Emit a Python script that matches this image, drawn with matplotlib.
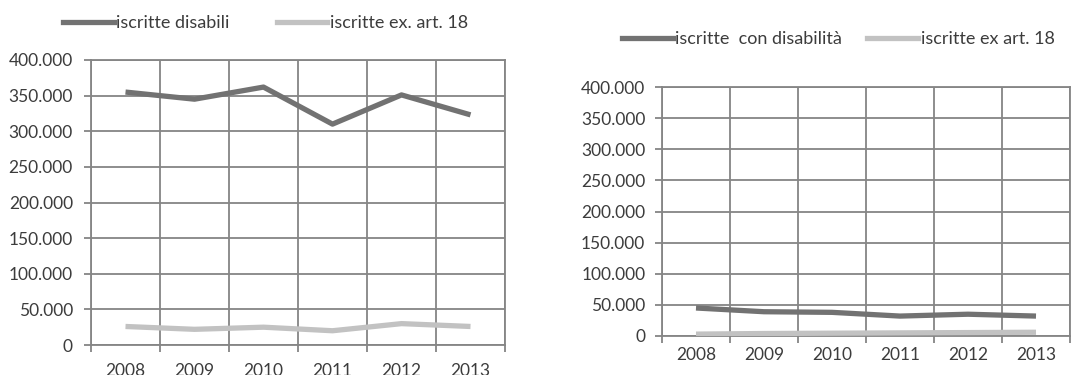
import matplotlib
matplotlib.use("Agg")
import matplotlib.pyplot as plt
from matplotlib.ticker import FuncFormatter, FixedLocator
from matplotlib.lines import Line2D

years = ["2008", "2009", "2010", "2011", "2012", "2013"]
left_disabili = [355000, 345000, 362000, 310000, 351000, 323000]
left_art18 = [26000, 22000, 25000, 20000, 30000, 26000]
right_disabilita = [45000, 39000, 38000, 32000, 35000, 32000]
right_art18 = [3000, 4000, 4500, 5000, 5500, 6000]

left_labels = ["iscritte disabili", "iscritte ex. art. 18"]
right_labels = ["iscritte  con disabilità", "iscritte ex art. 18"]
yticks = [0, 50000, 100000, 150000, 200000, 250000, 300000, 350000, 400000]

DARK = "#727272"
LIGHT = "#c2c2c2"
GRID = "#858585"
TEXT = "#3c3c3c"
FONT = "Lato"

plt.rcParams['font.family'] = [FONT, 'DejaVu Sans']

W, H = 1074, 375
fig = plt.figure(figsize=(W / 100, H / 100), dpi=100)


def fmt(v, pos):
    return f"{int(v):,}".replace(",", ".")


def make_axes(x0, x1, ytop, ybot, s1, s2, xpad, ypad):
    ax = fig.add_axes([x0 / W, (H - ybot) / H, (x1 - x0) / W, (ybot - ytop) / H])
    x = list(range(len(years)))
    ax.plot(x, s1, color=DARK, lw=3.8, solid_capstyle="butt", zorder=3)
    ax.plot(x, s2, color=LIGHT, lw=3.8, solid_capstyle="butt", zorder=3)
    ax.set_xlim(-0.5, len(years) - 0.5)
    ax.set_ylim(0, 400000)
    ax.set_yticks(yticks)
    ax.yaxis.set_major_formatter(FuncFormatter(fmt))
    ax.set_xticks(x)
    ax.set_xticklabels(years)
    ax.xaxis.set_minor_locator(FixedLocator([i - 0.5 for i in range(len(years) + 1)]))
    ax.tick_params(axis="x", which="major", length=0, pad=xpad, labelsize=12.5, labelcolor=TEXT)
    ax.tick_params(axis="x", which="minor", length=5, width=1.3, color=GRID, direction="out")
    ax.tick_params(axis="y", length=5, width=1.3, color=GRID, direction="out", pad=ypad,
                   labelsize=12.5, labelcolor=TEXT)
    ax.grid(True, axis="y", which="major", color=GRID, lw=1.3)
    ax.grid(True, axis="x", which="minor", color=GRID, lw=1.3)
    ax.set_axisbelow(True)
    for sp in ax.spines.values():
        sp.set_color(GRID)
        sp.set_linewidth(1.3)
    return ax


make_axes(91, 505, 60, 345, left_disabili, left_art18, 13, 8)
make_axes(662, 1070, 87, 336, right_disabilita, right_art18, 8, 7)


def legend(x, y, labels, colsp):
    handles = [Line2D([], [], color=DARK, lw=3.8), Line2D([], [], color=LIGHT, lw=3.8)]
    fig.legend(handles, labels, loc="center left", bbox_to_anchor=(x / W, (H - y) / H),
               ncol=2, frameon=False, fontsize=13, handlelength=2.8, handletextpad=0.15,
               columnspacing=colsp, borderaxespad=0, borderpad=0, labelcolor=TEXT)


legend(63, 23, left_labels, 2.6)
legend(622, 39, right_labels, 1.4)

fig.savefig("out.png", dpi=100, facecolor="white")
